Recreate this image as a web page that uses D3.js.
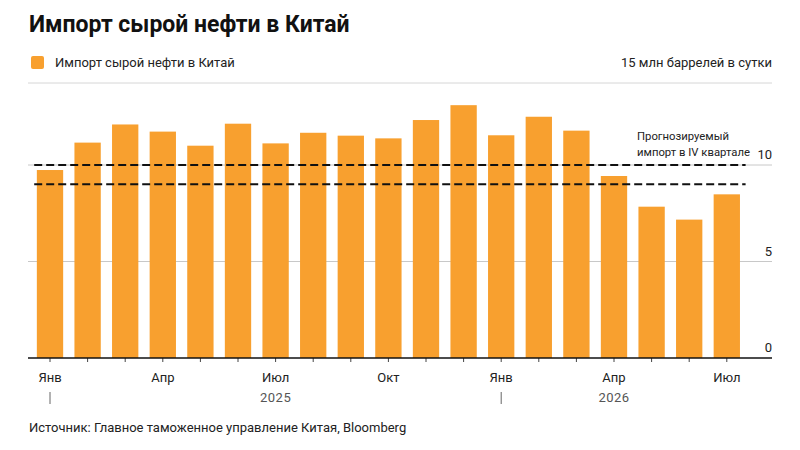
<!DOCTYPE html>
<html>
<head>
<meta charset="utf-8">
<script src="https://cdn.jsdelivr.net/npm/d3@7"></script>
<style>
  body { margin: 0; background: #fff; }
  svg { display: block; font-family: Roboto, 'Noto Sans', sans-serif; }
</style>
</head>
<body>
<div id="chart"></div>
<script>
// ---- Data ----
const months = [
  '2025-01', '2025-02', '2025-03', '2025-04', '2025-05', '2025-06', '2025-07',
  '2025-08', '2025-09', '2025-10', '2025-11', '2025-12',
  '2026-01', '2026-02', '2026-03', '2026-04', '2026-05', '2026-06', '2026-07',
];
const imports = [
  9.74, 11.16, 12.1, 11.73, 11.0, 12.14, 11.12, 11.67, 11.52, 11.38, 12.33, 13.1,
  11.54, 12.5, 11.78, 9.43, 7.84, 7.17, 8.48,
];
const monthLabels = { '01': 'Янв', '04': 'Апр', '07': 'Июл', '10': 'Окт' };
const yearLabels = [
  { year: '2025', at: '2025-07' },
  { year: '2026', at: '2026-04' },
];
const forecastRange = [9, 10];
const yTicks = [0, 5, 10];
const yMax = 15;

const TITLE = 'Импорт сырой нефти в Китай';
const LEGEND = 'Импорт сырой нефти в Китай';
const UNIT = 'млн баррелей в сутки';
const NOTE = ['Прогнозируемый', 'импорт в IV квартале'];
const SOURCE = 'Источник: Главное таможенное управление Китая, Bloomberg';

const BAR = '#F8A02F';

// ---- Layout ----
const W = 800, H = 450;
const left = 28, right = 772;
const y0 = 358, yTop = 358 - yMax * 19.3;

const svg = d3.select('#chart').append('svg')
  .attr('width', W).attr('height', H);

const x = d3.scaleBand()
  .domain(months)
  .range([31.2, 745.6])
  .paddingInner(0.3)
  .paddingOuter(0.15);

const y = d3.scaleLinear()
  .domain([0, yMax])
  .range([y0, yTop]);

// Title + legend
svg.append('text')
  .attr('x', 29).attr('y', 32)
  .attr('fill', '#111')
  .style('font-size', '23px')
  .style('font-weight', '700')
  .text(TITLE);

svg.append('rect')
  .attr('x', 31).attr('y', 56)
  .attr('width', 13).attr('height', 13).attr('rx', 2)
  .attr('fill', BAR);

svg.append('text')
  .attr('x', 55).attr('y', 67)
  .attr('fill', '#222')
  .style('font-size', '13px')
  .text(LEGEND);

svg.append('text')
  .attr('x', right).attr('y', 67)
  .attr('text-anchor', 'end')
  .attr('fill', '#222')
  .style('font-size', '13px')
  .text(`${yMax} ${UNIT}`);

// header rule
svg.append('line')
  .attr('x1', left).attr('x2', right)
  .attr('y1', 83).attr('y2', 83)
  .attr('stroke', '#d6d6d6');

// Gridlines + y labels
const grid = svg.append('g');
grid.selectAll('line')
  .data(yTicks.filter(d => d > 0))
  .enter().append('line')
  .attr('x1', left).attr('x2', right)
  .attr('y1', d => y(d)).attr('y2', d => y(d))
  .attr('stroke', '#c8c8c8');

grid.selectAll('text')
  .data(yTicks)
  .enter().append('text')
  .attr('x', right).attr('y', d => y(d) - 6)
  .attr('text-anchor', 'end')
  .attr('fill', '#222')
  .style('font-size', '13px')
  .text(d => d);

// Bars
svg.append('g').selectAll('rect')
  .data(months.map((m, i) => ({ m, v: imports[i] })))
  .enter().append('rect')
  .attr('x', d => x(d.m))
  .attr('width', x.bandwidth())
  .attr('y', d => y(d.v))
  .attr('height', d => y(0) - y(d.v))
  .attr('fill', BAR);

// Forecast dashed lines
svg.append('g').selectAll('line')
  .data(forecastRange)
  .enter().append('line')
  .attr('x1', x.range()[0] + 3).attr('x2', x.range()[1])
  .attr('y1', d => y(d)).attr('y2', d => y(d))
  .attr('stroke', '#111')
  .attr('stroke-width', 2)
  .attr('stroke-dasharray', '8,4');

svg.append('text')
  .attr('x', 637).attr('y', y(10) - 25)
  .attr('fill', '#222')
  .style('font-size', '11.3px')
  .selectAll('tspan')
  .data(NOTE)
  .enter().append('tspan')
  .attr('x', 637)
  .attr('dy', (d, i) => i === 0 ? 0 : 16)
  .text(d => d);

// X axis
const xAxis = d3.axisBottom(x)
  .tickSize(4)
  .tickFormat(d => monthLabels[d.slice(5)] || '');

const ax = svg.append('g')
  .attr('transform', `translate(0,${y0})`)
  .call(xAxis);
ax.select('.domain').remove();
ax.selectAll('.tick line').attr('stroke', '#444');
ax.selectAll('.tick text')
  .attr('dy', 0).attr('y', 24)
  .attr('fill', '#222')
  .style('font-size', '13px')
  .style('font-family', 'Roboto, sans-serif');

svg.append('line')
  .attr('x1', left).attr('x2', right)
  .attr('y1', y0).attr('y2', y0)
  .attr('stroke', '#111')
  .attr('stroke-width', 1.5);

// Year separators + labels
const mid = d => x(d) + x.bandwidth() / 2;
svg.append('g').selectAll('line')
  .data(months.filter(m => m.endsWith('-01')))
  .enter().append('line')
  .attr('x1', mid).attr('x2', mid)
  .attr('y1', 392).attr('y2', 404)
  .attr('stroke', '#666');

svg.append('g').selectAll('text')
  .data(yearLabels)
  .enter().append('text')
  .attr('x', d => mid(d.at)).attr('y', 402)
  .attr('text-anchor', 'middle')
  .attr('fill', '#555')
  .style('font-size', '13px')
  .style('letter-spacing', '0.5px')
  .text(d => d.year);

// Source
svg.append('text')
  .attr('x', 29).attr('y', 432)
  .attr('fill', '#222')
  .style('font-size', '13px')
  .text(SOURCE);
</script>
</body>
</html>
